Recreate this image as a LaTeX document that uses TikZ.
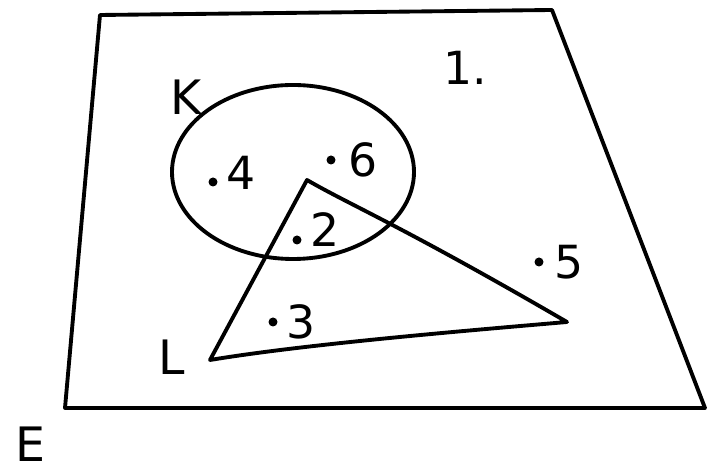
\documentclass[tikz,border=0pt]{standalone}
\usepackage{fontspec}
\setmainfont{DejaVu Sans}
\usetikzlibrary{positioning}
\tikzset{
    pt/.style={circle, fill, minimum size=1.8mm, inner sep=0pt},
    ptlabel/.style={font=\fontsize{26}{28}\selectfont, inner sep=1pt},
    setlabel/.style={font=\fontsize{27}{29}\selectfont, inner sep=0pt},
    contour/.style={line width=2.2pt, line join=round},
}
\begin{document}
\begin{tikzpicture}[x=0.02cm, y=-0.02cm]
    \useasboundingbox (0,0) rectangle (711,475);
    % universe E
    \coordinate (e1) at (100,15);
    \coordinate (e2) at (552,10);
    \coordinate (e3) at (705,408);
    \coordinate (e4) at (65,408);
    \draw[contour] (e1) -- (e2) -- (e3) -- (e4) -- cycle;
    \node[setlabel] (E) at (30,444) {E};
    % set K
    \draw[contour] (293,172) ellipse [x radius=121, y radius=87];
    \node[setlabel] (K) at (186,97) {K};
    % set L
    \coordinate (l1) at (307,180);
    \coordinate (l2) at (567,322);
    \coordinate (l3) at (210,360);
    \draw[contour] (l1) .. controls (350,205) and (400,225) .. (l2)
        .. controls (450,332) and (300,345) .. (l3) -- cycle;
    \node[setlabel] (L) at (172,357) {L};
    % elements
    \node[pt] (p4) at (213,182) {};
    \node[ptlabel, right=4pt of p4, yshift=5pt] {4};
    \node[pt] (p6) at (331,160) {};
    \node[ptlabel, right=6pt of p6] {6};
    \node[pt] (p2) at (297,240) {};
    \node[ptlabel, right=4pt of p2, yshift=6pt] {2};
    \node[pt] (p3) at (273,322) {};
    \node[ptlabel, right=4pt of p3] {3};
    \node[pt] (p5) at (539,262) {};
    \node[ptlabel, right=5pt of p5] {5};
    \node[ptlabel] (p1) at (465,68) {1.};
\end{tikzpicture}
\end{document}
